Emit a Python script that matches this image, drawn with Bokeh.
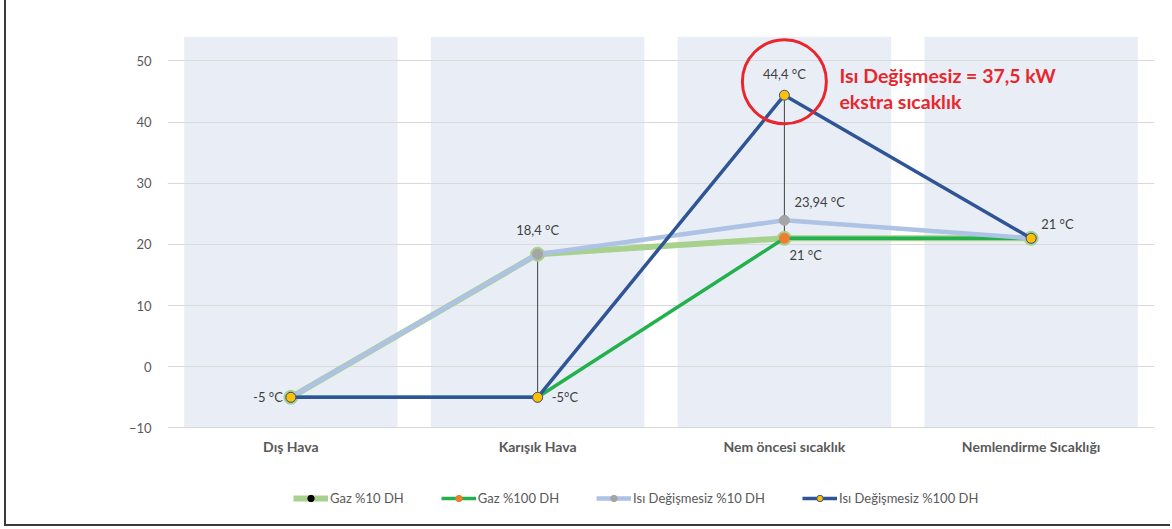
from bokeh.plotting import figure
from bokeh.models import FactorRange, Range1d, Legend, LegendItem, Label, FixedTicker, ColumnDataSource
from bokeh.core.properties import value
from bokeh.embed import file_html
from bokeh.resources import INLINE

# ---------------- data ----------------
categories = ["Dış Hava", "Karışık Hava", "Nem öncesi sıcaklık", "Nemlendirme Sıcaklığı"]
gaz_10 = [-5, 18.4, 21, 21]
gaz_100 = [-5, -5, 21, 21]
isi_10 = [-5, 18.4, 23.94, 21]
isi_100 = [-5, -5, 44.4, 21]
series_names = ["Gaz %10 DH", "Gaz %100 DH", "Isı Değişmesiz %10 DH", "Isı Değişmesiz %100 DH"]
y_ticks = [-10, 0, 10, 20, 30, 40, 50]
y_title = "Derece Celcius"
note_lines = ["Isı Değişmesiz = 37,5 kW", "ekstra sıcaklık"]

FONT = "Lato"
Y_AXIS_MIN, Y_MAX = -10, 54
Y_VIEW_MIN = -25.8   # extra room below the axis for the legend

p = figure(x_range=FactorRange(*categories), y_range=Range1d(Y_VIEW_MIN, Y_MAX),
           width=1166, height=526, output_backend="svg", toolbar_location=None,
           min_border_left=161, min_border_right=18, min_border_top=36, min_border_bottom=2,
           background_fill_color="white", border_fill_color="white", outline_line_color=None)
p.styles = {"margin-left": "4px", "border-left": "2px solid #3a3a3a", "border-bottom": "2px solid #3a3a3a"}

# background bands
p.vbar(x=categories, top=[Y_MAX] * len(categories), bottom=Y_AXIS_MIN, width=0.865,
       fill_color="#e9eef6", line_color=None, level="image")

# axes
p.xgrid.visible = False
p.ygrid.grid_line_color = "#d9d9d9"
p.ygrid.grid_line_width = 1
p.yaxis.ticker = FixedTicker(ticks=y_ticks)
p.xaxis.fixed_location = Y_AXIS_MIN
for ax in (p.xaxis, p.yaxis):
    ax.axis_line_color = None
    ax.major_tick_line_color = None
    ax.minor_tick_line_color = None
    ax.major_label_text_font = FONT
    ax.major_label_text_color = "#595959"
p.yaxis.major_label_text_font_size = "13px"
p.yaxis.major_label_standoff = 10
p.xaxis.major_label_text_font_size = "14px"
p.xaxis.major_label_text_font_style = "bold"
p.xaxis.major_label_standoff = 4

p.add_layout(Label(x=-40, y=21.4, x_units="screen", y_units="data", text=y_title,
                   text_align="right", text_baseline="middle", text_font=FONT,
                   text_font_size="14px", text_font_style="bold", text_color="#595959"))

# high-low lines
hl_x, hl_top, hl_bot = [], [], []
for i, c in enumerate(categories):
    vals = [gaz_10[i], gaz_100[i], isi_10[i], isi_100[i]]
    if max(vals) > min(vals):
        hl_x.append(c); hl_top.append(max(vals)); hl_bot.append(min(vals))
p.segment(x0=hl_x, y0=hl_bot, x1=hl_x, y1=hl_top, line_color="#404040", line_width=1)

# series
l1 = p.line(categories, gaz_10, line_color="#a9d18e", line_width=6)
m1 = p.scatter(categories, gaz_10, size=14, fill_color="#a9d18e", line_color="#a9d18e")
d1 = p.scatter(categories, gaz_10, size=3, fill_color="black", line_color="black")
l2 = p.line(categories, gaz_100, line_color="#22b14c", line_width=3.5)
m2 = p.scatter(categories, gaz_100, size=10, fill_color="#ed7d31", line_color="#ed7d31")
l3 = p.line(categories, isi_10, line_color="#adc2e4", line_width=4.5)
m3 = p.scatter(categories, isi_10, size=10, fill_color="#a5a5a5", line_color="#a5a5a5")
l4 = p.line(categories, isi_100, line_color="#2f5597", line_width=3.5)
m4 = p.scatter(categories, isi_100, size=10, fill_color="#ffc000", line_color="#2f5597", line_width=1)

# data labels
def fmt(v, sep=" "):
    return f"{v:g}".replace(".", ",") + sep + "°C"

lab = ColumnDataSource(dict(
    x=[categories[0], categories[1], categories[1], categories[2], categories[2], categories[2], categories[3]],
    y=[isi_100[0], isi_100[1], isi_10[1], isi_100[2], isi_10[2], gaz_100[2], isi_100[3]],
    t=[fmt(isi_100[0]), fmt(isi_100[1], ""), fmt(isi_10[1]), fmt(isi_100[2]), fmt(isi_10[2]),
       fmt(gaz_100[2]), fmt(isi_100[3])],
    dx=[-8, 14, 0, 0, 10, 5, 10],
    dy=[0, 0, -24, -21, -18, 17, -14],
    al=["right", "left", "center", "center", "left", "left", "left"],
))
p.text(x="x", y="y", text="t", x_offset="dx", y_offset="dy", text_align="al",
       text_baseline="middle", text_font=value(FONT), text_font_size="13px",
       text_color="#404040", source=lab)

# red annotation
peak_cat = categories[isi_100.index(max(isi_100))]
peak = max(isi_100)
p.scatter([peak_cat], [peak + 2.2], size=84, fill_color=None, line_color="#e8262d", line_width=3)
p.text(x=[peak_cat, peak_cat], y=[peak, peak], text=note_lines, x_offset=[55, 55], y_offset=[-20, 6],
       text_align="left", text_baseline="middle", text_font=value(FONT), text_font_size="19.5px",
       text_font_style="bold", text_color="#e8262d")

# legend
legend = Legend(items=[
    LegendItem(label=series_names[0], renderers=[l1, m1, d1]),
    LegendItem(label=series_names[1], renderers=[l2, m2]),
    LegendItem(label=series_names[2], renderers=[l3, m3]),
    LegendItem(label=series_names[3], renderers=[l4, m4]),
], orientation="horizontal", location=(126, 18), border_line_color=None,
    background_fill_alpha=0, label_text_font=FONT, label_text_font_size="13px",
    label_text_color="#595959", glyph_width=35, glyph_height=16, label_standoff=2,
    spacing=37, padding=5)
p.add_layout(legend, "center")

open("out.html", "w").write(file_html(p, INLINE))
